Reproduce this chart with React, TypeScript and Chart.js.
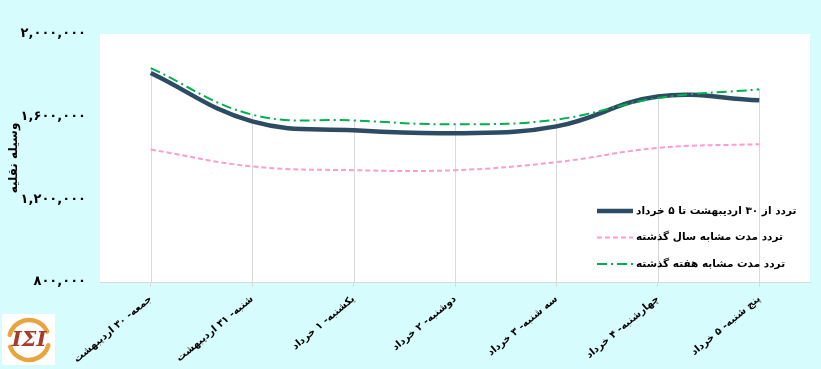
import React, { useEffect, useRef } from 'react';
import { Chart, registerables } from 'chart.js';

Chart.register(...registerables);

const categories = [
  'جمعه- ۳۰ اردیبهشت',
  'شنبه- ۳۱ اردیبهشت',
  'یکشنبه- ۱ خرداد',
  'دوشنبه- ۲ خرداد',
  'سه شنبه- ۳ خرداد',
  'چهارشنبه- ۴ خرداد',
  'پنج شنبه- ۵ خرداد',
];

const currentLabel = 'تردد از ۳۰ اردیبهشت تا ۵ خرداد';
const lastYearLabel = 'تردد مدت مشابه سال گذشته';
const lastWeekLabel = 'تردد مدت مشابه هفته گذشته';

const currentValues = [1811000, 1577000, 1534000, 1520000, 1553000, 1698000, 1679000];
const lastYearValues = [1441000, 1359000, 1341000, 1341000, 1380000, 1449000, 1467000];
const lastWeekValues = [1835000, 1610000, 1582000, 1563000, 1586000, 1690000, 1732000];

const yTickValues = [800000, 1200000, 1600000, 2000000];
const yTickLabels = ['۸۰۰,۰۰۰', '۱,۲۰۰,۰۰۰', '۱,۶۰۰,۰۰۰', '۲,۰۰۰,۰۰۰'];
const yAxisTitle = 'وسیله نقلیه';
const logoText = 'IΣI';

const FONT = '"DejaVu Sans", sans-serif';
const BG = '#d7fcfd';

const backgroundPlugin = {
  id: 'plotBg',
  beforeDraw(chart: any) {
    const { ctx, chartArea, width, height } = chart;
    ctx.save();
    ctx.fillStyle = BG;
    ctx.fillRect(0, 0, width, height);
    ctx.fillStyle = '#ffffff';
    ctx.fillRect(chartArea.left, chartArea.top, chartArea.right - chartArea.left, chartArea.bottom - chartArea.top);
    ctx.restore();
  },
};

const dropLinesPlugin = {
  id: 'dropLines',
  beforeDatasetsDraw(chart: any) {
    const { ctx, chartArea, scales } = chart;
    const xs = scales.x;
    const ys = scales.y;
    ctx.save();
    ctx.strokeStyle = '#d9d9d9';
    ctx.lineWidth = 1;
    categories.forEach((_, i) => {
      const top = Math.max(...chart.data.datasets.map((d: any) => d.data[i]));
      const px = Math.round(xs.getPixelForValue(i)) + 0.5;
      ctx.beginPath();
      ctx.moveTo(px, ys.getPixelForValue(top));
      ctx.lineTo(px, chartArea.bottom);
      ctx.stroke();
    });
    ctx.restore();
  },
};

const legendPlugin = {
  id: 'insideLegend',
  afterDraw(chart: any) {
    const { ctx, chartArea } = chart;
    ctx.save();
    const x0 = chartArea.right - 213;
    chart.data.datasets.forEach((d: any, i: number) => {
      const y = chartArea.bottom - 71 + i * 26.5;
      ctx.beginPath();
      ctx.strokeStyle = d.borderColor;
      ctx.lineWidth = d.borderWidth;
      ctx.setLineDash(d.borderDash || []);
      ctx.moveTo(x0, y);
      ctx.lineTo(x0 + 36, y);
      ctx.stroke();
      ctx.setLineDash([]);
      ctx.fillStyle = '#000000';
      ctx.font = 'bold 10.5px ' + FONT;
      ctx.textAlign = 'left';
      ctx.textBaseline = 'middle';
      ctx.fillText(d.label, x0 + 39, y);
    });
    ctx.restore();
  },
};

const logoPlugin = {
  id: 'logo',
  afterDraw(chart: any) {
    const { ctx } = chart;
    ctx.save();
    ctx.fillStyle = '#ffffff';
    ctx.fillRect(2, 314, 53, 51);
    const cx = 29;
    const cy = 340;
    ctx.strokeStyle = '#e9a440';
    ctx.lineWidth = 4.5;
    ctx.lineCap = 'round';
    ctx.beginPath();
    ctx.arc(cx, cy, 20, (195 * Math.PI) / 180, (335 * Math.PI) / 180);
    ctx.stroke();
    ctx.beginPath();
    ctx.arc(cx, cy, 20, (15 * Math.PI) / 180, (160 * Math.PI) / 180);
    ctx.stroke();
    ctx.fillStyle = '#a63b2c';
    ctx.font = 'bold italic 21px "DejaVu Serif", serif';
    ctx.textAlign = 'center';
    ctx.textBaseline = 'middle';
    ctx.fillText(logoText, cx, cy + 1);
    ctx.restore();
  },
};

export default function App() {
  const ref = useRef<HTMLCanvasElement>(null);
  useEffect(() => {
    document.body.style.margin = '0';
    const canvas = ref.current;
    if (!canvas) return;
    const chart = new Chart(canvas, {
      type: 'line',
      data: {
        labels: categories,
        datasets: [
          {
            label: currentLabel,
            data: currentValues,
            borderColor: '#2d4c63',
            borderWidth: 4.5,
            tension: 0.4,
            pointRadius: 0,
            fill: false,
            order: 1,
          },
          {
            label: lastYearLabel,
            data: lastYearValues,
            borderColor: '#ff9ccf',
            borderWidth: 2,
            borderDash: [5, 3],
            tension: 0.4,
            pointRadius: 0,
            fill: false,
            order: 2,
          },
          {
            label: lastWeekLabel,
            data: lastWeekValues,
            borderColor: '#00b050',
            borderWidth: 2,
            borderDash: [10, 4, 2, 4],
            tension: 0.4,
            pointRadius: 0,
            fill: false,
            order: 0,
          },
        ],
      },
      options: {
        responsive: false,
        animation: false,
        devicePixelRatio: 1,
        layout: { padding: { top: 34, right: 11, left: 0, bottom: 0 } },
        plugins: {
          legend: { display: false },
          tooltip: { enabled: false },
        },
        scales: {
          x: {
            type: 'category',
            offset: true,
            grid: {
              display: true,
              drawOnChartArea: false,
              drawTicks: true,
              tickLength: 5,
              color: '#d9d9d9',
              offset: false,
            },
            border: { display: true, color: '#d9d9d9' },
            ticks: {
              autoSkip: false,
              maxRotation: 40,
              minRotation: 40,
              padding: 6,
              color: '#000000',
              font: { family: FONT, size: 10, weight: 'bold' },
            },
            afterFit: (scale: any) => {
              scale.height = 87;
            },
          },
          y: {
            min: 800000,
            max: 2000000,
            grid: { display: false, drawTicks: false },
            border: { display: false },
            ticks: {
              stepSize: 400000,
              padding: 14,
              color: '#000000',
              font: { family: FONT, size: 13, weight: 'bold' },
              callback: (v: any) => {
                const i = yTickValues.indexOf(Number(v));
                return i >= 0 ? yTickLabels[i] : '';
              },
            },
            title: {
              display: true,
              text: yAxisTitle,
              color: '#000000',
              font: { family: FONT, size: 12, weight: 'bold' },
              padding: { top: 7, bottom: 0 },
            },
            afterFit: (scale: any) => {
              scale.width = 100;
            },
          },
        },
      } as any,
      plugins: [backgroundPlugin, dropLinesPlugin, legendPlugin, logoPlugin],
    });
    return () => chart.destroy();
  }, []);
  return (
    <div style={{ width: 821, height: 369, background: BG }}>
      <canvas ref={ref} width={821} height={369} style={{ display: 'block' }} />
    </div>
  );
}
